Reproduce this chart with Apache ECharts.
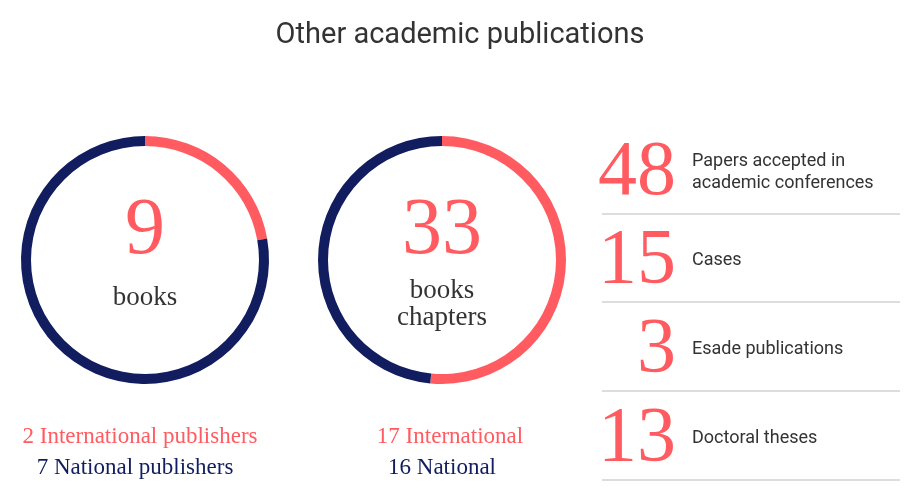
<!DOCTYPE html>
<html><head><meta charset="utf-8">
<script src="https://cdn.jsdelivr.net/npm/echarts@6/dist/echarts.min.js"></script>
<style>html,body{margin:0;background:#fff}#c{width:920px;height:492px}</style>
</head><body><div id="c"></div>
<script>
const RED = '#ff5b60', NAVY = '#111d5e'
const title = 'Other academic publications'
// donut data: [national, international]
const booksSplit = [7, 2]
const chaptersSplit = [16, 17]
const booksLabels = ['2 International publishers', '7 National publishers']
const chaptersLabels = ['17 International', '16 National']
const statValues = ['48', '15', '3', '13']
const statNames = [['Papers accepted in', 'academic conferences'], ['Cases'], ['Esade publications'], ['Doctoral theses']]

const serif = '"Liberation Serif", "DejaVu Serif", serif'
const sans = 'Roboto, "Noto Sans", sans-serif'

function donut(center, split) {
    return {
        type: 'pie', center: center, radius: [114, 124], silent: true,
        startAngle: 90, clockwise: true, label: { show: false },
        data: [{ value: split[1], itemStyle: { color: RED } }, { value: split[0], itemStyle: { color: NAVY } }]
    }
}

function txt(x, y, s, size, color, font, align, weight) {
    return { type: 'text', x: x, y: y, style: { text: s, fontSize: size, fill: color, fontFamily: font, textAlign: align || 'center', textVerticalAlign: 'middle', fontWeight: weight || 300 } }
}

const g = [
    txt(145, 232, String(booksSplit[0] + booksSplit[1]), 80, RED, serif),
    txt(145, 298, 'books', 27, '#333', serif),
    txt(442, 232, String(chaptersSplit[0] + chaptersSplit[1]), 80, RED, serif),
    txt(442, 291, 'books', 27, '#333', serif),
    txt(442, 318, 'chapters', 27, '#333', serif),
    txt(140, 437, booksLabels[0], 23, RED, serif),
    txt(135, 468, booksLabels[1], 23, NAVY, serif),
    txt(450, 437, chaptersLabels[0], 23, RED, serif),
    txt(442, 468, chaptersLabels[1], 23, NAVY, serif)
]
const rowY = [174, 262, 351, 440]
statValues.forEach((v, i) => {
    g.push(txt(676, rowY[i], v, 78, RED, serif, 'right'))
    const names = statNames[i]
    names.forEach((n, j) => {
        g.push(txt(692, rowY[i] - 11 * (names.length - 1) + 22 * j - 2, n, 18, '#333', sans, 'left', 400))
    })
    g.push({ type: 'line', shape: { x1: 602, y1: rowY[i] + 40, x2: 900, y2: rowY[i] + 40 }, style: { stroke: '#bbb', lineWidth: 1 } })
})

const chart = echarts.init(document.getElementById('c'))
chart.setOption({
    animation: false,
    title: { text: title, left: 'center', top: 16, textStyle: { fontFamily: sans, fontSize: 29, fontWeight: 400, color: '#333' } },
    series: [donut([145, 260], booksSplit), donut([442, 260], chaptersSplit)],
    graphic: g
})
</script></body></html>
